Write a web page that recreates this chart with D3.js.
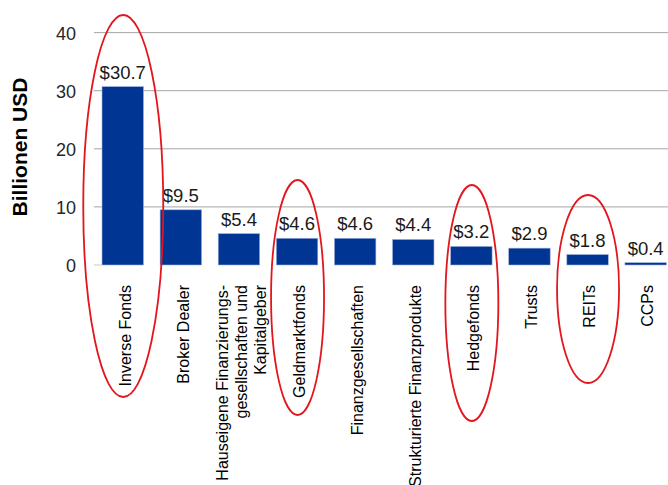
<!DOCTYPE html>
<html>
<head>
<meta charset="utf-8">
<script src="https://cdn.jsdelivr.net/npm/d3@7"></script>
<style>
  html, body { margin: 0; padding: 0; background: #fff; }
  svg { display: block; font-family: "Liberation Sans", Arial, sans-serif; }
</style>
</head>
<body>
<svg id="chart" width="668" height="485"></svg>
<script>
const categories = [
  "Inverse Fonds",
  "Broker Dealer",
  "Hauseigene Finanzierungs-\ngesellschaften und\nKapitalgeber",
  "Geldmarktfonds",
  "Finanzgesellschaften",
  "Strukturierte Finanzprodukte",
  "Hedgefonds",
  "Trusts",
  "REITs",
  "CCPs"
];
const values = [30.7, 9.5, 5.4, 4.6, 4.6, 4.4, 3.2, 2.9, 1.8, 0.4];
const valueLabels = ["$30.7", "$9.5", "$5.4", "$4.6", "$4.6", "$4.4", "$3.2", "$2.9", "$1.8", "$0.4"];
const yTicks = [0, 10, 20, 30, 40];
const yTitle = "Billionen USD";
const highlighted = ["Inverse Fonds", "Geldmarktfonds", "Hedgefonds", "REITs"];

const svg = d3.select("#chart");
const baseY = 265, topY = 32.6;

const x = d3.scaleBand()
  .domain(categories)
  .range([93.7, 674.7])
  .paddingInner(0.286)
  .paddingOuter(0.143);

const y = d3.scaleLinear().domain([0, 40]).range([baseY, topY]);

// gridlines
svg.append("g").selectAll("line")
  .data(yTicks.filter(d => d > 0))
  .join("line")
  .attr("x1", 94).attr("x2", 668)
  .attr("y1", d => y(d)).attr("y2", d => y(d))
  .attr("stroke", "#a6a6a6").attr("stroke-width", 1);

// short zero tick
svg.append("line")
  .attr("x1", 94).attr("x2", x(categories[0]))
  .attr("y1", y(0)).attr("y2", y(0))
  .attr("stroke", "#c8c8c8").attr("stroke-width", 1);

// y axis labels
const yAxis = d3.axisLeft(y).tickValues(yTicks).tickSize(0).tickPadding(0).tickFormat(d3.format("d"));
const gy = svg.append("g").attr("transform", "translate(76,0)").call(yAxis);
gy.select(".domain").remove();
gy.selectAll("text")
  .attr("font-size", 18)
  .attr("fill", "#262626")
  .attr("font-family", "Liberation Sans, Arial, sans-serif")
  .attr("dy", "0.36em");

// y title
svg.append("text")
  .attr("transform", "translate(27,147) rotate(-90)")
  .attr("text-anchor", "middle")
  .attr("font-size", 21)
  .attr("font-weight", "bold")
  .attr("fill", "#000")
  .text(yTitle);

// bars
svg.append("g").selectAll("rect")
  .data(categories)
  .join("rect")
  .attr("x", d => x(d))
  .attr("width", x.bandwidth())
  .attr("y", (d, i) => y(values[i]))
  .attr("height", (d, i) => y(0) - y(values[i]))
  .attr("fill", "#003594")
  .attr("stroke", "#9fb3dc")
  .attr("stroke-width", 0.6);

// value labels
svg.append("g").selectAll("text")
  .data(categories)
  .join("text")
  .attr("x", d => x(d) + x.bandwidth() / 2)
  .attr("y", (d, i) => y(values[i]) - 8)
  .attr("text-anchor", "middle")
  .attr("font-size", 18.5)
  .attr("fill", "#1a1a1a")
  .text((d, i) => valueLabels[i]);

// category labels
const catG = svg.append("g");
categories.forEach(c => {
  const lines = c.split("\n");
  const cx = x(c) + x.bandwidth() / 2;
  const t = catG.append("text")
    .attr("transform", `translate(${cx + 2},285) rotate(-90)`)
    .attr("text-anchor", "end")
    .attr("font-size", 16)
    .attr("fill", "#000");
  lines.forEach((ln, i) => {
    t.append("tspan")
      .attr("x", 0)
      .attr("y", (i - (lines.length - 1) / 2) * 19)
      .attr("dy", "0.36em")
      .text(ln);
  });
});

// red highlight ellipses
const ellipseSpec = {
  "Inverse Fonds": { top: 15, bottom: 397, rx: 40 },
  "Geldmarktfonds": { top: 180, bottom: 415, rx: 26.5 },
  "Hedgefonds": { top: 185, bottom: 421, rx: 26.5 },
  "REITs": { top: 195, bottom: 383, rx: 31 }
};
svg.append("g").selectAll("ellipse")
  .data(highlighted)
  .join("ellipse")
  .attr("cx", d => x(d) + x.bandwidth() / 2 + 0.5)
  .attr("cy", d => (ellipseSpec[d].top + ellipseSpec[d].bottom) / 2)
  .attr("rx", d => ellipseSpec[d].rx)
  .attr("ry", d => (ellipseSpec[d].bottom - ellipseSpec[d].top) / 2)
  .attr("fill", "none")
  .attr("stroke", "#e3161d")
  .attr("stroke-width", 1.8);
</script>
</body>
</html>
